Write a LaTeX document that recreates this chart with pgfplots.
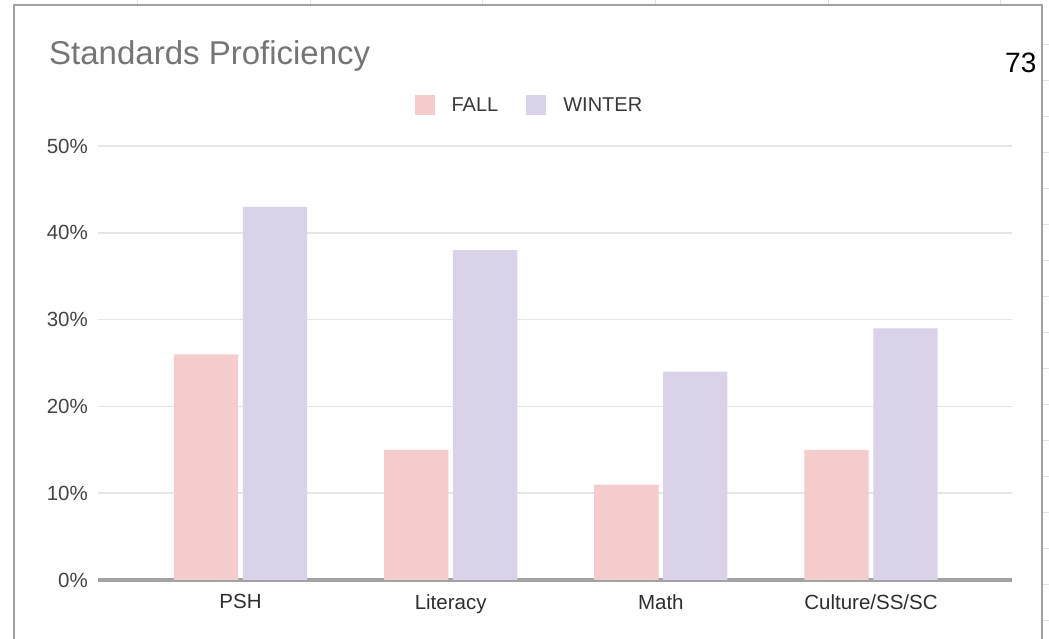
\documentclass[border=0pt]{standalone}
\usepackage{pgfplots}
\pgfplotsset{compat=1.18}
\usepackage{fontspec}
\setmainfont{Liberation Sans}
\definecolor{fallc}{HTML}{F4CCCC}
\definecolor{winterc}{HTML}{D9D2E9}
\definecolor{gridc}{HTML}{E6E6E6}
\definecolor{zeroc}{HTML}{A3A3A3}
\definecolor{framec}{HTML}{A0A0A0}
\definecolor{titlec}{HTML}{757575}
\definecolor{labc}{HTML}{444444}
\definecolor{faintc}{HTML}{E2E2E2}
\begin{document}
\begin{tikzpicture}
\fill[white] (0pt,0pt) rectangle (1049pt,639pt);
% faint spreadsheet lines outside the chart frame
\foreach \xx in {137,310,482,655,828,1000} \draw[faintc,line width=1pt] (\xx pt,634pt) -- (\xx pt,639pt);
\foreach \yy in {594,558,522,486,450,414,378,342,306,270,234,198,162,126,90,54,18} \draw[faintc,line width=1pt] (1042pt,\yy pt) -- (1049pt,\yy pt);
\draw[framec,line width=1.6pt] (14pt,-5pt) -- (14pt,634pt) -- (1042pt,634pt) -- (1042pt,-5pt);
\node[anchor=base west,inner sep=0pt,text=titlec,font=\fontsize{33}{38}\selectfont] at (49pt,574pt) {Standards Proficiency};
\node[anchor=base west,inner sep=0pt,text=black,font=\fontsize{28}{32}\selectfont] at (1005pt,566pt) {73};
\begin{axis}[
  at={(98pt,59pt)}, anchor=south west,
  scale only axis, width=914pt, height=434pt,
  xmin=-0.678, xmax=3.671, ymin=0, ymax=50,
  axis x line=bottom, axis y line=left,
  x axis line style={-, color=zeroc, line width=3.2pt},
  y axis line style={draw=none},
  major tick length=0pt,
  xtick={0,1,2,3},
  xticklabels={PSH,Literacy,Math,Culture/SS/SC},
  ytick={0,10,20,30,40,50},
  yticklabels={0\%,10\%,20\%,30\%,40\%,50\%},
  ymajorgrids, grid style={gridc, line width=1.6pt},
  xticklabel style={font=\fontsize{20.5}{24}\selectfont, text=black!82, inner sep=0pt, anchor=north, yshift=-14pt},
  yticklabel style={font=\fontsize{20.5}{24}\selectfont, text=labc, inner sep=0pt, anchor=east, xshift=-10pt},
  legend columns=2,
  legend style={at={(0.472,1.0945)}, anchor=center, draw=none, fill=none,
    font=\fontsize{20}{24}\selectfont, text=black!78,
    /tikz/every odd column/.append style={column sep=15pt},
    /tikz/every even column/.append style={column sep=26pt}},
  legend image code/.code={\fill[#1] (0pt,-10pt) rectangle (20pt,10pt);},
]
\addplot[ybar, bar width=0.306, bar shift=-0.164, fill=fallc, draw=none] coordinates {(0,26) (1,15) (2,11) (3,15)};
\addlegendentry{FALL}
\addplot[ybar, bar width=0.306, bar shift=0.164, fill=winterc, draw=none] coordinates {(0,43) (1,38) (2,24) (3,29)};
\addlegendentry{WINTER}
\end{axis}
\pgfresetboundingbox
\path[use as bounding box] (0pt,0pt) rectangle (1049pt,639pt);
\end{tikzpicture}
\end{document}
